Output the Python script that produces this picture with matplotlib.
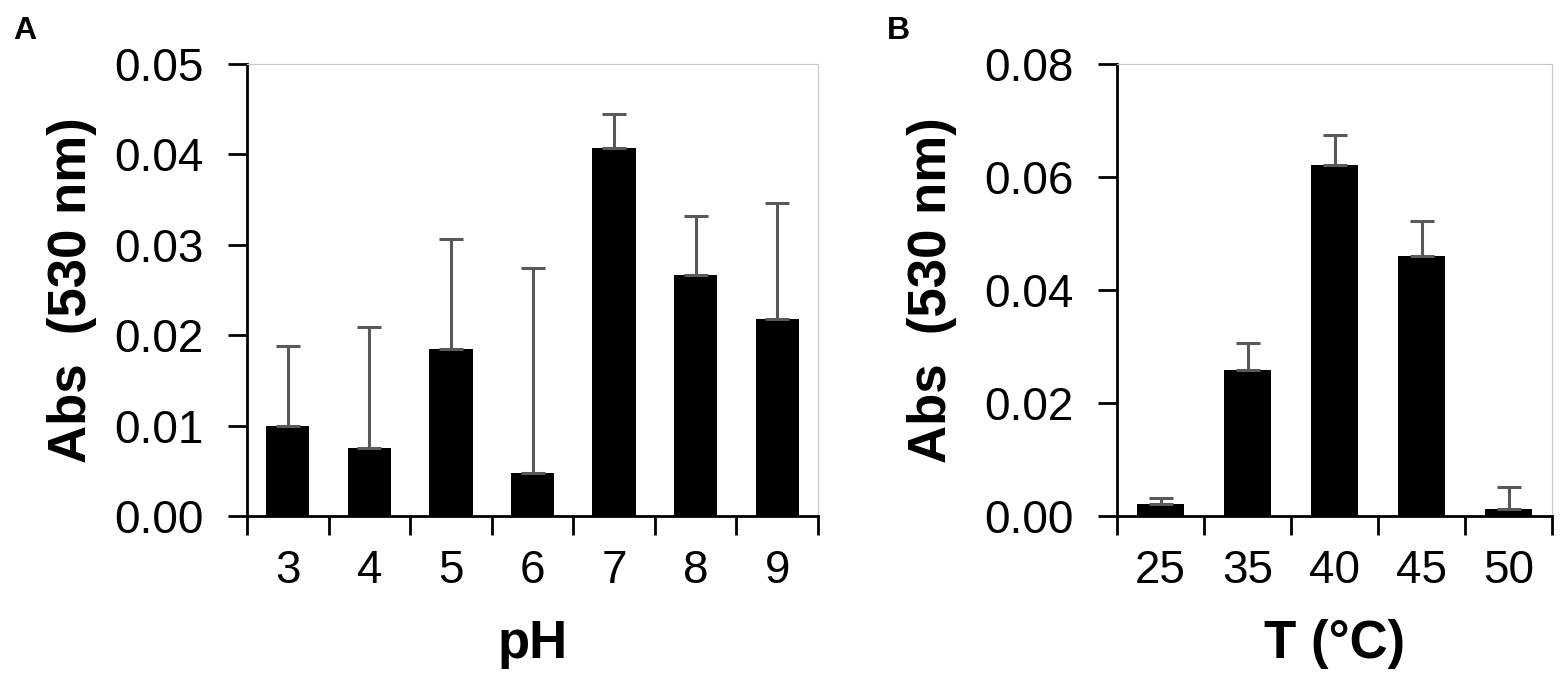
"""Two-panel bar chart: absorbance at 530 nm vs pH (A) and temperature (B)."""

import matplotlib.pyplot as plt
import numpy as np

plt.rcParams["font.family"] = ["Liberation Sans", "DejaVu Sans"]

# --- Data ---------------------------------------------------------------------
ph_labels = ["3", "4", "5", "6", "7", "8", "9"]
ph_abs = [0.0100, 0.0075, 0.0185, 0.0048, 0.0407, 0.0267, 0.0218]
ph_err = [0.0088, 0.0134, 0.0121, 0.0226, 0.0038, 0.0065, 0.0128]

temp_labels = ["25", "35", "40", "45", "50"]
temp_abs = [0.0022, 0.0258, 0.0622, 0.0460, 0.0012]
temp_err = [0.0010, 0.0049, 0.0053, 0.0063, 0.0040]

# --- Style --------------------------------------------------------------------
W, H = 1562, 679
TICK_SIZE = 33
LABEL_SIZE = 38
ERR_COLOR = "#595959"


def draw_panel(ax, labels, values, errors, ymax, ystep, xlabel, ylabel_x):
    x = np.arange(len(labels))
    ax.bar(x, values, width=0.53, color="black", zorder=2)
    ax.errorbar(
        x, values, yerr=[np.zeros(len(x)), errors], fmt="none",
        ecolor=ERR_COLOR, elinewidth=2.2, capsize=8.5, capthick=2.2, zorder=3,
    )
    ax.set_xlim(-0.5, len(labels) - 0.5)
    ax.set_ylim(0, ymax)
    ax.set_yticks(np.arange(0, ymax + ystep / 2, ystep))
    ax.yaxis.set_major_formatter(plt.FormatStrFormatter("%.2f"))

    # category labels at centres, tick marks at the category boundaries
    ax.set_xticks(x)
    ax.set_xticklabels(labels)
    ax.set_xticks(np.arange(len(labels) + 1) - 0.5, minor=True)
    ax.tick_params(axis="x", which="major", length=0, pad=24, labelsize=TICK_SIZE)
    ax.tick_params(axis="x", which="minor", length=14, width=2, direction="out")
    ax.tick_params(axis="y", length=14, width=2, direction="out", pad=17,
                   labelsize=TICK_SIZE)

    for side in ("left", "bottom"):
        ax.spines[side].set_linewidth(2)
        ax.spines[side].set_color("black")
    for side in ("top", "right"):
        ax.spines[side].set_linewidth(0.8)
        ax.spines[side].set_color("#c8c8c8")

    ax.set_xlabel(xlabel, fontsize=LABEL_SIZE, fontweight="bold")
    ax.xaxis.set_label_coords(0.5, -0.227)
    ax.set_ylabel("Abs  (530 nm)", fontsize=LABEL_SIZE, fontweight="bold")
    ax.yaxis.set_label_coords(ylabel_x, 0.5)


fig = plt.figure(figsize=(W / 100, H / 100), dpi=100)
bottom = (H - 516) / H
height = (516 - 64) / H
ax_a = fig.add_axes([247 / W, bottom, (818 - 247) / W, height])
ax_b = fig.add_axes([1117 / W, bottom, (1552 - 1117) / W, height])

draw_panel(ax_a, ph_labels, ph_abs, ph_err, 0.05, 0.01, "pH", -0.263)
draw_panel(ax_b, temp_labels, temp_abs, temp_err, 0.08, 0.02, "T (°C)", -0.368)

fig.text(13 / W, 1 - 31 / H, "A", fontsize=23, fontweight="bold", va="center")
fig.text(887 / W, 1 - 31 / H, "B", fontsize=23, fontweight="bold", va="center")

fig.savefig("out.png", dpi=100)
